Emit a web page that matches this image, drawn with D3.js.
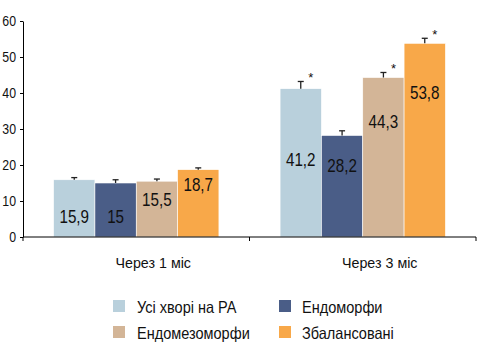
<!DOCTYPE html>
<html>
<head>
<meta charset="utf-8">
<script src="https://cdn.jsdelivr.net/npm/d3@7"></script>
<style>
  body { margin: 0; background: #fff; }
  svg text { font-family: "Liberation Sans Narrow", "Arial Narrow", "Liberation Sans", Arial, sans-serif; fill: #111; }
</style>
</head>
<body>
<div id="chart"></div>
<script>
// Chart data.
var categories = ["Через 1 міс", "Через 3 міс"];
var seriesNames = ["Усі хворі на РА", "Ендоморфи", "Ендомезоморфи", "Збалансовані"];
var seriesColors = ["#b9d0dc", "#4a5d87", "#d3b597", "#f8a849"];
var values = [[15.9, 15, 15.5, 18.7], [41.2, 28.2, 44.3, 53.8]];
var errors = [[0.6, 0.9, 0.6, 0.5], [2.0, 1.3, 1.4, 1.4]];
var valueLabels = [["15,9", "15", "15,5", "18,7"], ["41,2", "28,2", "44,3", "53,8"]];
var labelAt = [[5.7, 5.7, 10.6, 14.7], [21.7, 20, 32.3, 40.1]]; // where the number sits, in data units
var starred = [[false, false, false, false], [true, false, true, true]];
var yTicks = [0, 10, 20, 30, 40, 50, 60];

var width = 478, height = 354;
var plotLeft = 23, plotRight = 476, plotTop = 21, plotBottom = 237;

// the original uses a condensed face; squeeze the text we have
function condense(sel, k) {
  sel.each(function() {
    var w = this.getComputedTextLength();
    d3.select(this).attr("textLength", w * k).attr("lengthAdjust", "spacingAndGlyphs");
  });
}

var svg = d3.select("#chart").append("svg")
    .attr("width", width)
    .attr("height", height);

var y = d3.scaleLinear().domain([0, 60]).range([plotBottom, plotTop]);
var x0 = d3.scaleBand().domain(categories).range([plotLeft, plotRight]);
var x1 = d3.scaleBand().domain(seriesNames).range([0, x0.bandwidth()])
    .paddingInner(0).paddingOuter(0.74);

// bars, one group per category
var groups = svg.selectAll("g.grp")
    .data(categories)
    .enter().append("g")
    .attr("class", "grp")
    .attr("transform", d => "translate(" + x0(d) + ",0)");

groups.each(function(cat, ci) {
  var g = d3.select(this);
  var rows = seriesNames.map((s, si) => ({
    s: s, si: si, v: values[ci][si], e: errors[ci][si],
    lab: valueLabels[ci][si], at: labelAt[ci][si], star: starred[ci][si]
  }));

  g.selectAll("rect").data(rows).enter().append("rect")
    .attr("x", d => x1(d.s))
    .attr("y", d => y(d.v))
    .attr("width", x1.bandwidth())
    .attr("height", d => y(0) - y(d.v))
    .attr("fill", d => seriesColors[d.si])
    .attr("stroke", "#fff")
    .attr("stroke-width", 0.6);

  // error bars (upper half only)
  var eb = g.selectAll("g.err").data(rows).enter().append("g").attr("class", "err");
  eb.append("line")
    .attr("x1", d => x1(d.s) + x1.bandwidth() / 2)
    .attr("x2", d => x1(d.s) + x1.bandwidth() / 2)
    .attr("y1", d => y(d.v))
    .attr("y2", d => y(d.v + d.e))
    .attr("stroke", "#222").attr("stroke-width", 1.3);
  eb.append("line")
    .attr("x1", d => x1(d.s) + x1.bandwidth() / 2 - 3)
    .attr("x2", d => x1(d.s) + x1.bandwidth() / 2 + 3)
    .attr("y1", d => y(d.v + d.e))
    .attr("y2", d => y(d.v + d.e))
    .attr("stroke", "#222").attr("stroke-width", 1.3);

  g.selectAll("text.star").data(rows.filter(d => d.star)).enter().append("text")
    .attr("class", "star")
    .attr("x", d => x1(d.s) + x1.bandwidth() / 2 + 10)
    .attr("y", d => y(d.v + d.e) + 1)
    .attr("text-anchor", "middle")
    .style("font-size", "13px")
    .text("*");

  g.selectAll("text.val").data(rows).enter().append("text")
    .attr("class", "val")
    .attr("x", d => x1(d.s) + x1.bandwidth() / 2)
    .attr("y", d => y(d.at))
    .attr("dy", "0.36em")
    .attr("text-anchor", "middle")
    .style("font-size", "19px")
    .text(d => d.lab)
    .call(condense, 0.8);
});

// y axis
var yAxis = svg.append("g")
    .attr("transform", "translate(" + plotLeft + ",0)")
    .call(d3.axisLeft(y).tickValues(yTicks).tickSize(3).tickPadding(4).tickSizeOuter(0));
yAxis.selectAll("text").style("font-size", "14px").call(condense, 0.88);

// x axis with ticks on the band edges
var xAxis = svg.append("g").attr("transform", "translate(0," + plotBottom + ")");
xAxis.append("line")
    .attr("x1", plotLeft).attr("x2", plotRight)
    .attr("stroke", "#000");
xAxis.selectAll("line.tk")
    .data([plotLeft].concat(categories.map(c => x0(c) + x0.bandwidth())))
    .enter().append("line")
    .attr("class", "tk")
    .attr("x1", d => d).attr("x2", d => d)
    .attr("y1", 0).attr("y2", 4)
    .attr("stroke", "#000");
svg.selectAll(".domain, .tick line").attr("stroke", "#000");

svg.selectAll("text.cat")
    .data(categories)
    .enter().append("text")
    .attr("class", "cat")
    .attr("x", d => x0(d) + x0.bandwidth() / 2 + 17)
    .attr("y", 268)
    .attr("text-anchor", "middle")
    .style("font-size", "15.5px")
    .text(d => d)
    .call(condense, 0.92);

// legend, 2 x 2
var legend = svg.append("g").attr("id", "legend");
var legItems = legend.selectAll("g")
    .data(seriesNames)
    .enter().append("g")
    .attr("transform", (d, i) => "translate(" + (i % 2 ? 279 : 113) + "," + (i < 2 ? 300 : 326) + ")");
legItems.append("rect")
    .attr("width", 12).attr("height", 12)
    .attr("fill", (d, i) => seriesColors[i]);
legItems.append("text")
    .attr("x", (d, i) => i % 2 ? 23 : 24)
    .attr("y", 12.5)
    .style("font-size", "16.5px")
    .text(d => d)
    .call(condense, 0.88);
</script>
</body>
</html>
